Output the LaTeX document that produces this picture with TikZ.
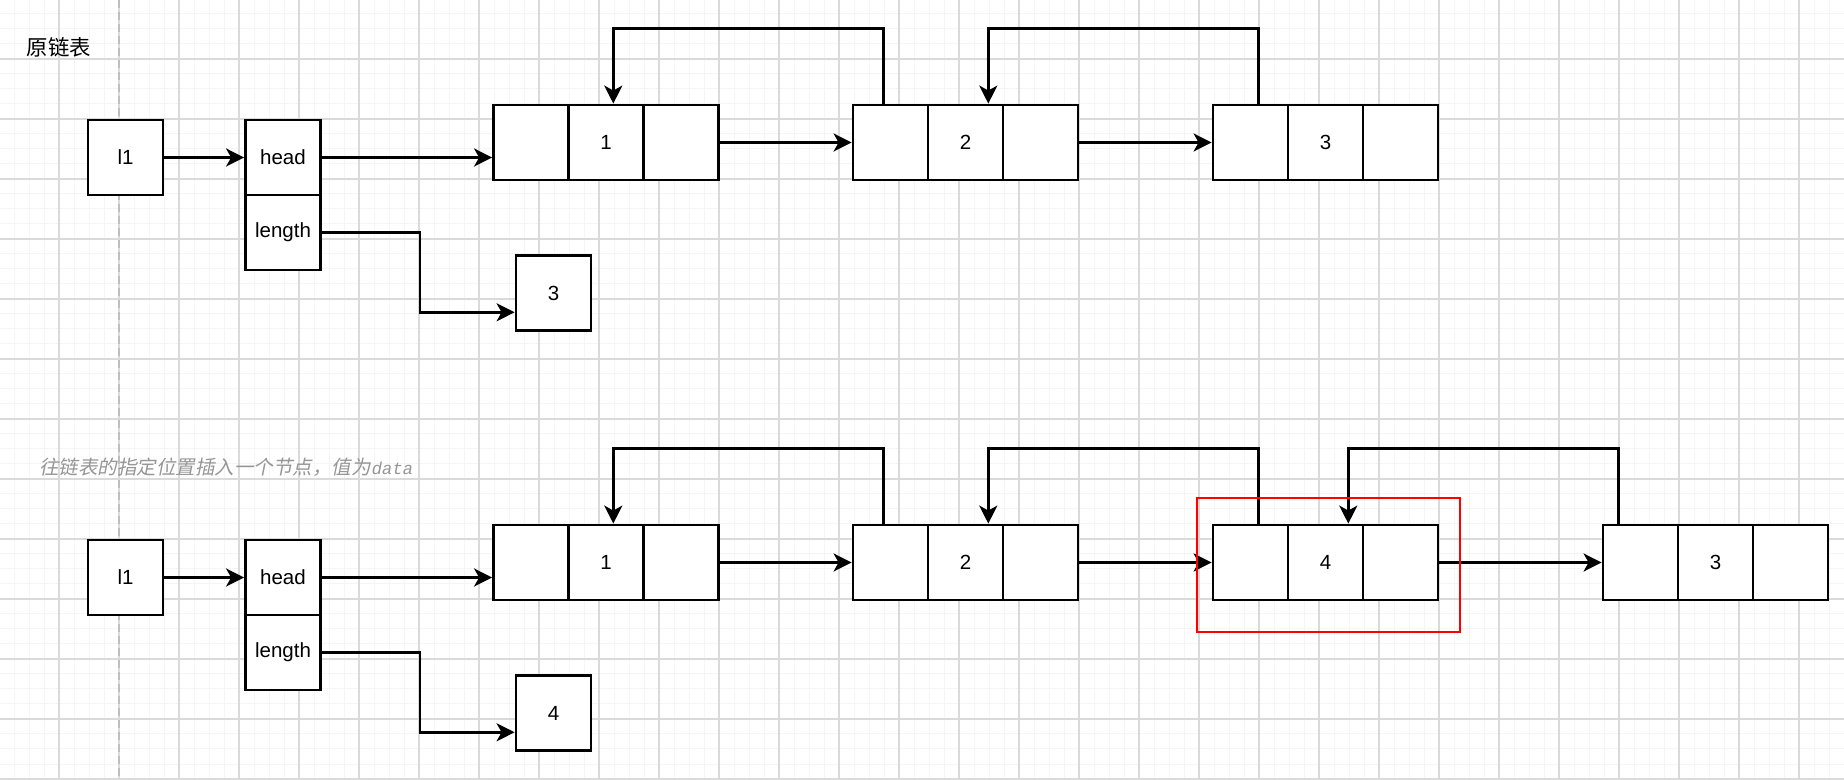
\documentclass[tikz,border=0pt]{standalone}
\usepackage{fontspec}
\setmainfont{Liberation Sans}
\newfontfamily\cjk{Noto Sans CJK SC}
\newfontfamily\cjkit{Noto Sans CJK SC}[FakeSlant=0.2]
\newfontfamily\monoit{Liberation Mono}[FakeSlant=0.2]
\usetikzlibrary{arrows.meta,calc}
\definecolor{gridmin}{RGB}{245,245,245}
\definecolor{gridmaj}{RGB}{218,218,218}
\definecolor{gridpage}{RGB}{190,190,190}
\definecolor{subgray}{RGB}{150,150,150}
\definecolor{redbox}{RGB}{255,0,0}
\begin{document}
\begin{tikzpicture}[x=0.5pt,y=-0.5pt,
  cell/.style={draw=black,line width=1.4pt,fill=white,minimum width=37.5pt,minimum height=37.5pt,inner sep=0pt,font=\fontsize{10.25pt}{12pt}\selectfont},
  link/.style={draw=black,line width=1.3pt,-{Stealth[length=9pt,width=9pt,inset=2.5pt]}},
  minorgrid/.style={draw=gridmin,line width=0.5pt},
  majorgrid/.style={draw=gridmaj,line width=0.6pt},
  hilite/.style={draw=redbox,line width=1.2pt,minimum width=131.65pt,minimum height=67pt,inner sep=0pt},
  titletext/.style={anchor=west,inner sep=0pt}]
% background and grid
\fill[white] (0,0) rectangle (1844,780);
\useasboundingbox (0,0) rectangle (1844,780);
\foreach \x in {14,29,...,1844} \draw[minorgrid] (\x,0) -- (\x,780);
\foreach \y in {14,29,...,780} \draw[minorgrid] (0,\y) -- (1844,\y);
\foreach \x in {59,119,...,1844} \draw[majorgrid] (\x,0) -- (\x,780);
\foreach \y in {59,119,...,780} \draw[majorgrid] (0,\y) -- (1844,\y);
\draw[gridpage,line width=0.6pt,dash pattern=on 4pt off 2pt] (119,0) -- (119,780);
\draw[gridmaj,line width=1pt] (0,719) -- (1844,719);

% titles
\node[titletext,font=\cjk\fontsize{10.7pt}{12pt}\selectfont] (title1) at (26.5,47) {原链表};
\node[titletext,text=subgray,font=\cjkit\fontsize{9.75pt}{12pt}\selectfont] (title2) at (39,467)
  {往链表的指定位置插入一个节点，值为{\monoit\fontsize{8.6pt}{12pt}\selectfont data}};

% ---------- top: original list ----------
\node[cell] (t-l1) at (125.5,157.5) {l1};
\node[cell] (t-head) at (283,157.5) {head};
\node[cell] (t-len) at (283,232.5) {length};
\node[cell] (t-lv) at (553.5,293) {3};
\node[cell] (t-n1a) at (531,142.5) {};
\node[cell] (t-n1b) at (606,142.5) {1};
\node[cell] (t-n1c) at (681,142.5) {};
\node[cell] (t-n2a) at (890.5,142.5) {};
\node[cell] (t-n2b) at (965.5,142.5) {2};
\node[cell] (t-n2c) at (1040.5,142.5) {};
\node[cell] (t-n3a) at (1250.5,142.5) {};
\node[cell] (t-n3b) at (1325.5,142.5) {3};
\node[cell] (t-n3c) at (1400.5,142.5) {};

\draw[link] (t-l1.east) -- (t-head.west);
\draw[link] (t-head.east) -- (t-head.east -| t-n1a.west);
\draw[link] (t-len.east) -- ++(98,0) |- ($(t-lv.west)+(0,19.3)$);
\draw[link] (t-n1c.east) -- (t-n2a.west);
\draw[link] (t-n2c.east) -- (t-n3a.west);
\draw[link] ($(t-n2a.north)+(-7.2,0)$) -- ++(0,-75) -| ($(t-n1b.north)+(7.3,0)$);
\draw[link] ($(t-n3a.north)+(7.8,0)$) -- ++(0,-75) -| ($(t-n2b.north)+(22.8,0)$);

% ---------- bottom: after insertion ----------
\node[cell] (b-l1) at (125.5,577.5) {l1};
\node[cell] (b-head) at (283,577.5) {head};
\node[cell] (b-len) at (283,652.5) {length};
\node[cell] (b-lv) at (553.5,713) {4};
\node[cell] (b-n1a) at (531,562.5) {};
\node[cell] (b-n1b) at (606,562.5) {1};
\node[cell] (b-n1c) at (681,562.5) {};
\node[cell] (b-n2a) at (890.5,562.5) {};
\node[cell] (b-n2b) at (965.5,562.5) {2};
\node[cell] (b-n2c) at (1040.5,562.5) {};
\node[cell] (b-n4a) at (1250.5,562.5) {};
\node[cell] (b-n4b) at (1325.5,562.5) {4};
\node[cell] (b-n4c) at (1400.5,562.5) {};
\node[cell] (b-n3a) at (1640.5,562.5) {};
\node[cell] (b-n3b) at (1715.5,562.5) {3};
\node[cell] (b-n3c) at (1790.5,562.5) {};

\draw[link] (b-l1.east) -- (b-head.west);
\draw[link] (b-head.east) -- (b-head.east -| b-n1a.west);
\draw[link] (b-len.east) -- ++(98,0) |- ($(b-lv.west)+(0,19.3)$);
\draw[link] (b-n1c.east) -- (b-n2a.west);
\draw[link] (b-n2c.east) -- (b-n4a.west);
\draw[link] (b-n4c.east) -- (b-n3a.west);
\draw[link] ($(b-n2a.north)+(-7.2,0)$) -- ++(0,-75) -| ($(b-n1b.north)+(7.3,0)$);
\draw[link] ($(b-n4a.north)+(7.8,0)$) -- ++(0,-75) -| ($(b-n2b.north)+(22.8,0)$);
\draw[link] ($(b-n3a.north)+(-22.3,0)$) -- ++(0,-75) -| ($(b-n4b.north)+(22.8,0)$);

% highlight of the inserted node
\node[hilite] (hl) at (1328.35,565.3) {};
\end{tikzpicture}
\end{document}
